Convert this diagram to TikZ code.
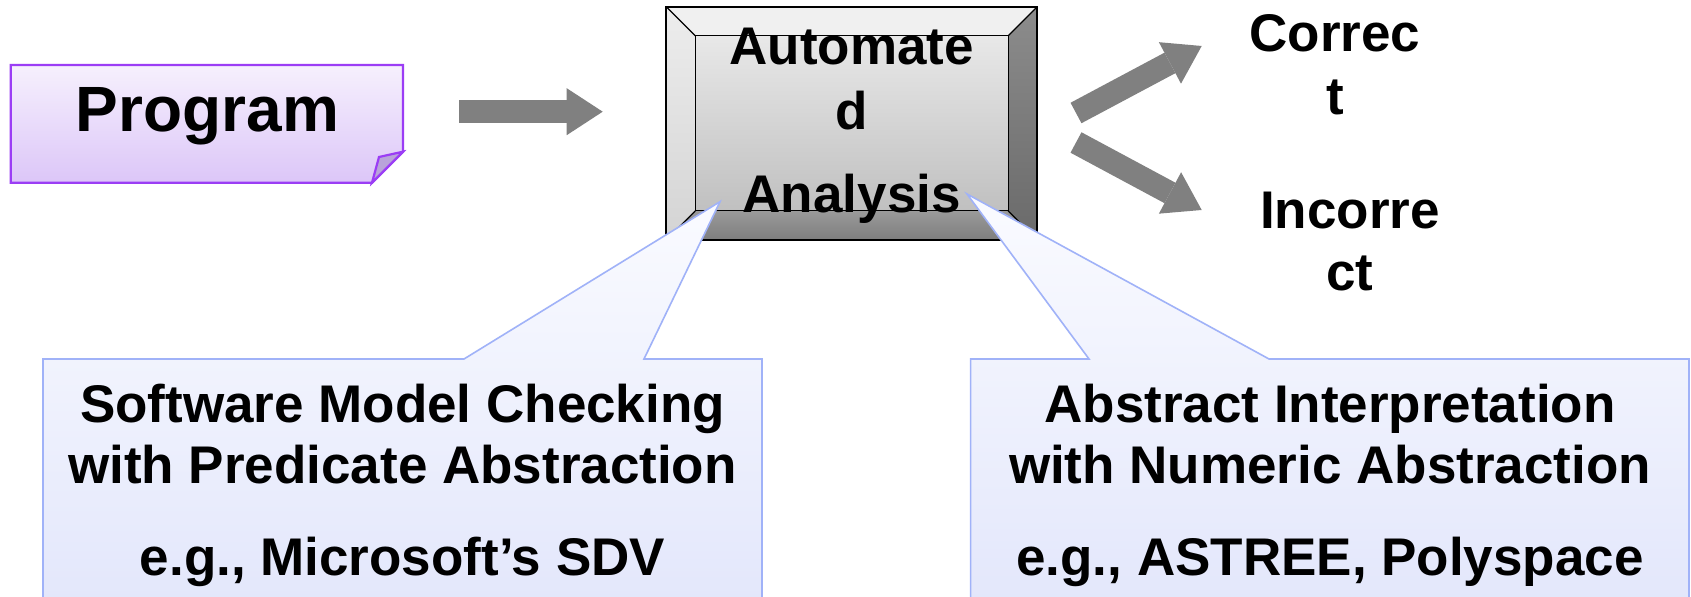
\documentclass[tikz,border=0pt]{standalone}
\usepackage{fontspec}
\setmainfont{Liberation Sans}
\usetikzlibrary{arrows.meta,calc}

\definecolor{progfillA}{HTML}{F6F0FD}
\definecolor{progfillB}{HTML}{DCC6F8}
\definecolor{progline}{HTML}{9B3DF5}
\definecolor{foldfill}{HTML}{B9A3DA}
\definecolor{callfillA}{HTML}{FAFBFF}
\definecolor{callfillB}{HTML}{E2E6FB}
\definecolor{callline}{HTML}{A0B2F8}
\definecolor{blockgray}{HTML}{808080}
\definecolor{facetop}{HTML}{E8E8E8}
\definecolor{facebot}{HTML}{C0C0C0}
\definecolor{bevtop}{HTML}{F0F0F0}
\definecolor{bevleftA}{HTML}{EDEDED}
\definecolor{bevleftB}{HTML}{D4D4D4}
\definecolor{bevrightA}{HTML}{8C8C8C}
\definecolor{bevrightB}{HTML}{6A6A6A}
\definecolor{bevbotA}{HTML}{9A9A9A}
\definecolor{bevbotB}{HTML}{7E7E7E}

\begin{document}
\begin{tikzpicture}[x=0.5pt,y=-0.5pt,
  label text/.style={font=\bfseries\fontsize{26.5pt}{31.8pt}\selectfont, anchor=base, inner sep=0pt},
  big text/.style={font=\bfseries\fontsize{32pt}{38pt}\selectfont, anchor=base, inner sep=0pt},
  block arrow/.style={draw=blockgray, line width=11.6pt,
    -{Triangle[length=18pt,width=23.5pt,line width=0pt]}},
  callout/.style={draw=callline, line width=0.8pt, top color=callfillA, bottom color=callfillB},
  bevel line/.style={draw=black, line width=0.6pt},
]
\clip (0,0) rectangle (1691,597);
\fill[white] (0,0) rectangle (1691,597);

% Program note with folded corner
\path[draw=progline, line width=1.1pt, top color=progfillA, bottom color=progfillB]
  (10.7,65) -- (403,65) -- (403,151.7) -- (372,182.7) -- (10.7,182.7) -- cycle;
\path[draw=progline, line width=1.1pt, fill=foldfill]
  (372,182.7) -- (379,157) -- (403,151.7) -- cycle;
\node[big text] (prog) at (207.5,131.7) {Program};

% Bevelled analysis box
\node[minimum width=185pt, minimum height=116.1pt, inner sep=0pt] (abox) at (851.7,123.4) {};
\coordinate (oTL) at (abox.north west);
\coordinate (oTR) at (abox.north east);
\coordinate (oBL) at (abox.south west);
\coordinate (oBR) at (abox.south east);
\coordinate (iTL) at ($(oTL)+(29,29)$);
\coordinate (iTR) at ($(oTR)+(-29,29)$);
\coordinate (iBL) at ($(oBL)+(29,-29)$);
\coordinate (iBR) at ($(oBR)+(-29,-29)$);
\path[top color=facetop, bottom color=facebot] (iTL) rectangle (iBR);
\fill[bevtop] (oTL) -- (oTR) -- (iTR) -- (iTL) -- cycle;
\path[top color=bevleftA, bottom color=bevleftB] (oTL) -- (iTL) -- (iBL) -- (oBL) -- cycle;
\path[top color=bevrightA, bottom color=bevrightB] (oTR) -- (oBR) -- (iBR) -- (iTR) -- cycle;
\path[top color=bevbotA, bottom color=bevbotB] (iBL) -- (iBR) -- (oBR) -- (oBL) -- cycle;
\draw[bevel line] (iTL) rectangle (iBR);
\draw[bevel line] (oTL) -- (iTL) (oTR) -- (iTR) (oBL) -- (iBL) (oBR) -- (iBR);
\draw[draw=black, line width=1pt] (oTL) rectangle (oBR);

% Callouts pointing at the box
\path[callout] (43,359) -- (464,359) -- (720,201.7) -- (644,359) -- (762,359)
  -- (762,620) -- (43,620) -- cycle;
\path[callout] (970.6,359) -- (1089,359) -- (967,194) -- (1269,359) -- (1689,359)
  -- (1689,620) -- (970.6,620) -- cycle;

\node[label text] (an1) at (851.7,65) {Automate};
\node[label text] (an2) at (851.7,130) {d};
\node[label text] (an3) at (851.7,213) {Analysis};

\node[label text] (smc1) at (402.5,422.7) {Software Model Checking};
\node[label text] (smc2) at (402.5,484) {with Predicate Abstraction};
\node[label text] (smc3) at (402.5,576) {e.g., Microsoft’s SDV};

\node[label text] (ai1) at (1330,422.7) {Abstract Interpretation};
\node[label text] (ai2) at (1330,484) {with Numeric Abstraction};
\node[label text] (ai3) at (1330,576) {e.g., ASTREE, Polyspace};

% Outcomes
\node[label text] (ok1) at (1335,51.7) {Correc};
\node[label text] (ok2) at (1335,115) {t};
\node[label text] (bad1) at (1350,228.3) {Incorre};
\node[label text] (bad2) at (1350,291) {ct};

% Block arrows
\coordinate (in-tail) at (459,111.7);
\coordinate (in-head) at (602.7,111.7);
\coordinate (ok-tail) at (1076,113);
\coordinate (ok-head) at (1201.7,46);
\coordinate (bad-tail) at (1076,142.5);
\coordinate (bad-head) at (1201.7,210);
\draw[block arrow] (in-tail) -- (in-head);
\draw[block arrow] (ok-tail) -- (ok-head);
\draw[block arrow] (bad-tail) -- (bad-head);
\end{tikzpicture}
\end{document}
